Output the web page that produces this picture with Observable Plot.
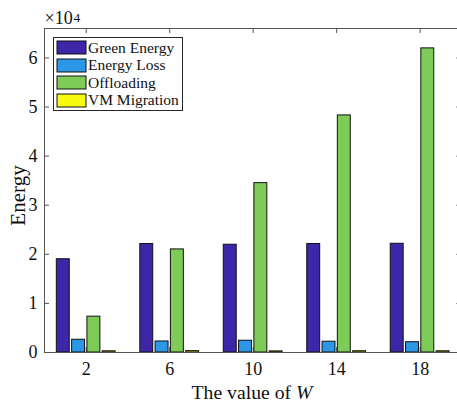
<!DOCTYPE html>
<html><head><meta charset="utf-8">
<script src="https://cdn.jsdelivr.net/npm/d3@7"></script>
<script src="https://cdn.jsdelivr.net/npm/@observablehq/plot@0.6"></script>
<style>
html,body{margin:0;padding:0;background:#fff;overflow:hidden}
#wrap{position:relative;width:457px;height:403px}
#legend{position:absolute;left:53px;top:37px;border:1px solid #262626;background:#fff;padding:1px 0 0 3px;box-sizing:border-box;width:130px;height:74px}
#legend .lg-swatches{margin:0 !important;font-family:"Liberation Serif","Times New Roman",serif !important;font-size:15.5px !important;color:#111}
#legend .lg-swatch{height:17.5px;padding:0 !important;display:flex;align-items:center}
#legend .lg-swatch > svg{margin-right:2px !important;overflow:visible}
#legend .lg-swatch > svg rect{stroke:#111;stroke-width:1}
</style></head>
<body><div id="wrap"></div>
<script>
const W = [2, 6, 10, 14, 18];
const seriesNames = ["Green Energy", "Energy Loss", "Offloading", "VM Migration"];
const greenEnergy = [19000, 22100, 21950, 22100, 22150];
const energyLoss = [2600, 2250, 2400, 2200, 2100];
const offloading = [7300, 21000, 34500, 48300, 61950];
const vmMigration = [250, 280, 230, 260, 250];
const colors = ["#3E26A8", "#2B97E6", "#7ECB57", "#F9FB0E"];
const yTicks = [0, 10000, 20000, 30000, 40000, 50000, 60000];
const yTickLabels = ["0", "1", "2", "3", "4", "5", "6"];

const seriesValues = [greenEnergy, energyLoss, offloading, vmMigration];
const table = [];
W.forEach((w, i) => seriesNames.forEach((s, k) => table.push({W: w, k, series: s, value: seriesValues[k][i]})));

const step = 0.733, bw = 0.62;
const yMax = 66000;
const tx = 0.24, ty = 1020;
const font = '"Liberation Serif","Times New Roman",serif';
const axisColor = "#555";

const chart = Plot.plot({
  width: 457, height: 403,
  marginLeft: 44, marginRight: 0, marginTop: 28, marginBottom: 51,
  style: {fontFamily: font, background: "#fff", color: "#111"},
  x: {type: "linear", domain: [0, 19.79]},
  y: {domain: [0, yMax]},
  color: {domain: seriesNames, range: colors},
  marks: [
    Plot.ruleY(yTicks, {x1: 0, x2: tx, stroke: axisColor}),
    Plot.ruleY(yTicks, {x1: 20 - tx, x2: 20, stroke: axisColor}),
    Plot.ruleX(W, {y1: 0, y2: ty, stroke: axisColor}),
    Plot.ruleX(W, {y1: yMax - ty, y2: yMax, stroke: axisColor}),
    Plot.rectY(table, {
      x1: d => d.W + (d.k - 1.5) * step - bw / 2,
      x2: d => d.W + (d.k - 1.5) * step + bw / 2,
      y1: 0, y2: "value", fill: "series", stroke: "#111", strokeWidth: 1
    }),
    Plot.ruleX([0], {stroke: axisColor}),
    Plot.ruleY([0, yMax], {stroke: axisColor}),
    Plot.axisY({ticks: yTicks, tickFormat: d => yTickLabels[yTicks.indexOf(d)], tickSize: 0, tickPadding: 7, fontSize: 18, label: null, fill: "#111"}),
    Plot.axisX({ticks: W, tickSize: 0, tickPadding: 10, fontSize: 18, label: null, fill: "#111"}),
    Plot.text(["The value of W"], {text: d => d, frameAnchor: "bottom", lineAnchor: "middle", textAnchor: "middle", dx: 1, dy: 40.6, fontSize: 19.7, fill: "#111"}),
    Plot.text(["Energy"], {text: d => d, frameAnchor: "left", lineAnchor: "middle", textAnchor: "middle", rotate: -90, dx: -26.7, dy: 5, fontSize: 21, fill: "#111"}),
    Plot.text(["×10"], {text: d => d, frameAnchor: "top-left", lineAnchor: "middle", textAnchor: "start", dx: 0, dy: -9.8, fontSize: 18, fill: "#111"}),
    Plot.text(["4"], {text: d => d, frameAnchor: "top-left", lineAnchor: "middle", textAnchor: "start", dx: 29, dy: -11.3, fontSize: 13.5, fill: "#111"})
  ]
});

chart.querySelectorAll("text").forEach(el => {
  if (el.textContent === "The value of W") {
    el.textContent = "The value of ";
    const t = document.createElementNS("http://www.w3.org/2000/svg", "tspan");
    t.setAttribute("font-style", "italic");
    t.textContent = "W";
    el.appendChild(t);
  }
});

const wrap = document.getElementById("wrap");
wrap.appendChild(chart);

const legendBox = document.createElement("div");
legendBox.id = "legend";
legendBox.appendChild(Plot.legend({
  color: {domain: seriesNames, range: colors},
  className: "lg", columns: 1, swatchWidth: 29, swatchHeight: 13
}));
wrap.appendChild(legendBox);
</script>
</body></html>
